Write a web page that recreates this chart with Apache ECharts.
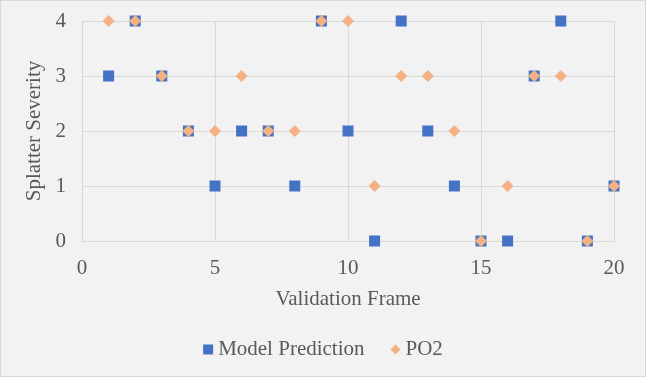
<!DOCTYPE html>
<html>
<head>
<meta charset="utf-8">
<script src="https://cdn.jsdelivr.net/npm/echarts@6/dist/echarts.min.js"></script>
<style>
  html, body { margin: 0; padding: 0; background: #f2f2f2; }
  #chart { width: 644px; height: 375px; border: 1px solid #d9d9d9; }
</style>
</head>
<body>
<div id="chart"></div>
<script>
// data
const frames = [1, 2, 3, 4, 5, 6, 7, 8, 9, 10, 11, 12, 13, 14, 15, 16, 17, 18, 19, 20];
const modelPrediction = [3, 4, 3, 2, 1, 2, 2, 1, 4, 2, 0, 4, 2, 1, 0, 0, 3, 4, 0, 1];
const po2 = [4, 4, 3, 2, 2, 3, 2, 2, 4, 4, 1, 3, 3, 2, 0, 1, 3, 3, 0, 1];
const xTicks = [0, 5, 10, 15, 20];
const yTicks = [0, 1, 2, 3, 4];

const font = '"Liberation Serif", "DejaVu Serif", serif';
const textColor = '#595959';
const gridColor = '#d9d9d9';

const chart = echarts.init(document.getElementById('chart'));

const toPoints = (ys) => frames.map((x, i) => [x, ys[i]]);

chart.setOption({
  backgroundColor: '#f2f2f2',
  animation: false,
  grid: { left: 81, right: 31, top: 20, bottom: 135 },
  legend: {
    bottom: 11,
    left: 'center',
    itemGap: 26,
    itemWidth: 10,
    itemHeight: 10,
    itemTextGap: 6,
    textStyle: { fontFamily: font, fontSize: 21, color: textColor },
    data: [
      { name: 'Model Prediction', icon: 'rect', itemStyle: { color: '#4472c4' } },
      { name: 'PO2', icon: 'diamond', itemStyle: { color: '#f4b183' } }
    ]
  },
  xAxis: {
    type: 'value',
    min: xTicks[0],
    max: xTicks[xTicks.length - 1],
    interval: 5,
    name: 'Validation Frame',
    nameLocation: 'middle',
    nameGap: 48,
    nameTextStyle: { fontFamily: font, fontSize: 21, color: textColor },
    axisLine: { show: true, lineStyle: { color: gridColor } },
    axisTick: { show: false },
    axisLabel: { fontFamily: font, fontSize: 21, color: textColor, margin: 17 },
    splitLine: { show: true, lineStyle: { color: gridColor, width: 1 } }
  },
  yAxis: {
    type: 'value',
    min: yTicks[0],
    max: yTicks[yTicks.length - 1],
    interval: 1,
    name: 'Splatter Severity',
    nameLocation: 'middle',
    nameGap: 34,
    nameTextStyle: { fontFamily: font, fontSize: 21, color: textColor },
    axisLine: { show: true, lineStyle: { color: gridColor } },
    axisTick: { show: false },
    axisLabel: { fontFamily: font, fontSize: 21, color: textColor, margin: 16 },
    splitLine: { show: true, lineStyle: { color: gridColor, width: 1 } }
  },
  series: [
    {
      name: 'Model Prediction',
      type: 'scatter',
      symbol: 'rect',
      symbolSize: 11,
      itemStyle: { color: '#4472c4', opacity: 1 },
      data: toPoints(modelPrediction)
    },
    {
      name: 'PO2',
      type: 'scatter',
      symbol: 'diamond',
      symbolSize: 12,
      itemStyle: { color: '#f4b183', opacity: 1 },
      data: toPoints(po2)
    }
  ]
});
</script>
</body>
</html>
